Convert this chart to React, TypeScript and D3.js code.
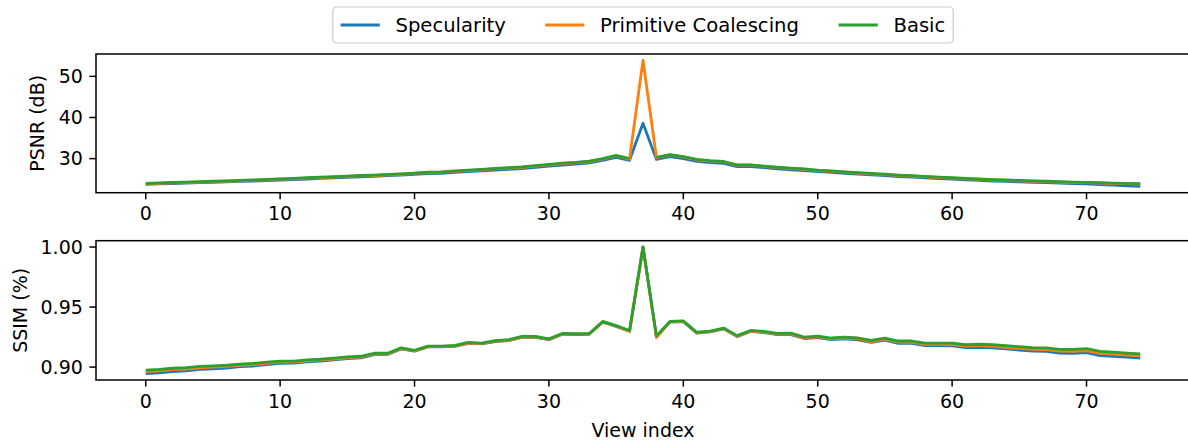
import * as d3 from "d3";

// view indices 0..74
const viewIndex = d3.range(75);

const seriesNames = ["Specularity", "Primitive Coalescing", "Basic"];
const seriesColors = ["#1f77b4", "#ff7f0e", "#2ca02c"];

// PSNR (dB) per view; Basic is infinite at view 37 (not drawn)
const psnrSpecularity = [
  23.75, 23.85, 23.95, 24.05, 24.15, 24.25, 24.35, 24.45, 24.55, 24.65,
  24.8, 24.9, 25.05, 25.2, 25.3, 25.45, 25.6, 25.7, 25.85, 26.0,
  26.15, 26.35, 26.45, 26.65, 26.85, 27.0, 27.2, 27.4, 27.6, 27.9,
  28.2, 28.45, 28.65, 28.95, 29.6, 30.3, 29.6, 38.6, 29.8, 30.5,
  30.0, 29.35, 29.05, 28.85, 28.05, 28.05, 27.8, 27.5, 27.3, 27.1,
  26.85, 26.65, 26.45, 26.25, 26.05, 25.85, 25.65, 25.5, 25.35, 25.15,
  25.0, 24.85, 24.7, 24.55, 24.45, 24.35, 24.25, 24.15, 24.05, 23.95,
  23.85, 23.7, 23.55, 23.4, 23.25,
];
const psnrCoalescing = [
  23.9, 24.0, 24.1, 24.2, 24.3, 24.4, 24.5, 24.6, 24.7, 24.85,
  25.0, 25.1, 25.25, 25.4, 25.5, 25.65, 25.8, 25.9, 26.05, 26.2,
  26.4, 26.6, 26.7, 26.9, 27.1, 27.3, 27.5, 27.7, 27.9, 28.2,
  28.5, 28.8, 29.0, 29.3, 29.9, 30.7, 29.9, 53.9, 30.2, 30.9,
  30.4, 29.7, 29.4, 29.2, 28.4, 28.4, 28.1, 27.8, 27.6, 27.4,
  27.1, 26.9, 26.7, 26.5, 26.3, 26.1, 25.9, 25.75, 25.6, 25.4,
  25.25, 25.1, 24.95, 24.8, 24.7, 24.6, 24.5, 24.4, 24.3, 24.2,
  24.15, 24.05, 23.95, 23.9, 23.8,
];
const psnrBasic = [
  24.0, 24.1, 24.2, 24.3, 24.4, 24.5, 24.6, 24.7, 24.8, 24.95,
  25.1, 25.2, 25.35, 25.5, 25.6, 25.75, 25.9, 26.0, 26.15, 26.3,
  26.5, 26.7, 26.8, 27.0, 27.2, 27.4, 27.6, 27.8, 28.0, 28.3,
  28.6, 28.9, 29.1, 29.4, 30.0, 30.8, 30.0, null, 30.3, 31.0,
  30.5, 29.8, 29.5, 29.3, 28.5, 28.5, 28.2, 27.9, 27.7, 27.5,
  27.2, 27.0, 26.8, 26.6, 26.4, 26.2, 26.0, 25.85, 25.7, 25.5,
  25.35, 25.2, 25.05, 24.9, 24.8, 24.7, 24.6, 24.5, 24.4, 24.3,
  24.25, 24.15, 24.05, 24.0, 23.9,
];

// SSIM per view
const ssimSpecularity = [
  0.8945, 0.8952, 0.8963, 0.8969, 0.898, 0.8986, 0.8992, 0.9003, 0.9009, 0.902,
  0.9031, 0.9032, 0.9043, 0.9049, 0.906, 0.9071, 0.9077, 0.9104, 0.9105, 0.9151,
  0.9132, 0.9168, 0.9168, 0.9173, 0.9198, 0.9193, 0.9213, 0.9221, 0.9248, 0.9248,
  0.9228, 0.9273, 0.9271, 0.9273, 0.9374, 0.9339, 0.9299, 1.0, 0.9253, 0.9374,
  0.9379, 0.9283, 0.9293, 0.9318, 0.9254, 0.9297, 0.9288, 0.927, 0.9271, 0.9238,
  0.9245, 0.9228, 0.9235, 0.9226, 0.9205, 0.9224, 0.9198, 0.9197, 0.9179, 0.9178,
  0.9177, 0.9162, 0.9165, 0.916, 0.9151, 0.9142, 0.9132, 0.913, 0.9116, 0.9115,
  0.912, 0.9096, 0.909, 0.9082, 0.9075,
];
const ssimCoalescing = [
  0.8962, 0.8968, 0.8978, 0.8984, 0.8994, 0.9, 0.9005, 0.9015, 0.9021, 0.9031,
  0.9041, 0.9042, 0.9052, 0.9057, 0.9067, 0.9077, 0.9083, 0.9109, 0.911, 0.9155,
  0.9135, 0.917, 0.917, 0.9176, 0.92, 0.9195, 0.9216, 0.9223, 0.925, 0.9251,
  0.923, 0.9276, 0.9274, 0.9276, 0.9377, 0.9342, 0.9296, 1.0, 0.9245, 0.9376,
  0.9381, 0.9286, 0.9295, 0.9321, 0.9256, 0.9299, 0.9291, 0.9274, 0.9276, 0.9243,
  0.9251, 0.9235, 0.9242, 0.9234, 0.9213, 0.9233, 0.9207, 0.9206, 0.9189, 0.9189,
  0.9188, 0.9174, 0.9178, 0.9173, 0.9164, 0.9156, 0.9147, 0.9145, 0.9132, 0.9131,
  0.9137, 0.9114, 0.9108, 0.91, 0.9093,
];
const ssimBasic = [
  0.8975, 0.898, 0.899, 0.8995, 0.9005, 0.901, 0.9015, 0.9025, 0.903, 0.904,
  0.905, 0.905, 0.906, 0.9065, 0.9075, 0.9085, 0.909, 0.9115, 0.9115, 0.916,
  0.914, 0.9175, 0.9175, 0.918, 0.9205, 0.92, 0.922, 0.9228, 0.9255, 0.9255,
  0.9235, 0.928, 0.9278, 0.928, 0.938, 0.9345, 0.9305, 1.0, 0.926, 0.938,
  0.9385, 0.929, 0.93, 0.9325, 0.9262, 0.9305, 0.9297, 0.928, 0.9282, 0.925,
  0.9258, 0.9242, 0.925, 0.9242, 0.9222, 0.9242, 0.9217, 0.9217, 0.92, 0.92,
  0.92, 0.9186, 0.919, 0.9186, 0.9178, 0.917, 0.9161, 0.916, 0.9147, 0.9147,
  0.9153, 0.913, 0.9125, 0.9117, 0.911,
];

const xTicks = [0, 10, 20, 30, 40, 50, 60, 70];
const psnrTicks = [30, 40, 50];
const ssimTicks = [0.9, 0.95, 1.0];

// legend text widths in em (DejaVu Sans)
const legendTextEm = [5.633, 10.173, 2.648];

const W = 1188;
const H = 445;
const FS = 19;
const LEGEND_FS = 19.6;
const TICK = 6.6;
const FONT = "DejaVu Sans";

const plotLeft = 96;
const plotRight = 1190;

const x = d3.scaleLinear().domain([-3.7, 77.7]).range([plotLeft, plotRight]);

function padded(all: (number | null)[][]) {
  const vals = all.flat().filter((v): v is number => v != null && isFinite(v));
  const [lo, hi] = d3.extent(vals) as [number, number];
  const m = (hi - lo) * 0.05;
  return [lo - m, hi + m];
}

type PanelProps = {
  top: number;
  bottom: number;
  series: (number | null)[][];
  yTicks: number[];
  yFormat: (v: number) => string;
  yLabel: string;
  yLabelX: number;
  xLabel?: string;
};

const Panel = ({ top, bottom, series, yTicks, yFormat, yLabel, yLabelX, xLabel }: PanelProps) => {
  const y = d3.scaleLinear().domain(padded(series)).range([bottom, top]);
  const line = d3
    .line<number | null>()
    .defined((d) => d != null)
    .x((_, i) => x(viewIndex[i]))
    .y((d) => y(d as number));

  return (
    <g>
      {series.map((s, i) => (
        <path
          key={i}
          d={line(s) || ""}
          fill="none"
          stroke={seriesColors[i]}
          strokeWidth={2.8}
          strokeLinejoin="round"
        />
      ))}
      <rect
        x={plotLeft}
        y={top}
        width={plotRight - plotLeft}
        height={bottom - top}
        fill="none"
        stroke="#000"
        strokeWidth={1.5}
      />
      {xTicks.map((t) => (
        <g key={t} transform={`translate(${x(t)},${bottom})`}>
          <line y2={TICK} stroke="#000" strokeWidth={1.5} />
          <text y={TICK * 2} dy="0.76em" textAnchor="middle">
            {t}
          </text>
        </g>
      ))}
      {yTicks.map((t) => (
        <g key={t} transform={`translate(${plotLeft},${y(t)})`}>
          <line x2={-TICK} stroke="#000" strokeWidth={1.5} />
          <text x={-TICK * 2} dy="0.36em" textAnchor="end">
            {yFormat(t)}
          </text>
        </g>
      ))}
      <text
        transform={`translate(${yLabelX},${(top + bottom) / 2}) rotate(-90)`}
        textAnchor="middle"
      >
        {yLabel}
      </text>
      {xLabel && (
        <text x={(plotLeft + plotRight) / 2} y={437} textAnchor="middle">
          {xLabel}
        </text>
      )}
    </g>
  );
};

const Legend = () => {
  const f = LEGEND_FS;
  const widths = legendTextEm.map((e) => e * f);
  const total = f * 0.8 + d3.sum(widths) + seriesNames.length * 2.8 * f + (seriesNames.length - 1) * 2 * f;
  const left = (plotLeft + plotRight) / 2 - total / 2;
  const cy = 25;
  let cursor = left + f * 0.4;
  const items = seriesNames.map((name, i) => {
    const x0 = cursor;
    cursor += 2.8 * f + widths[i] + 2 * f;
    return { name, x0, color: seriesColors[i] };
  });
  return (
    <g style={{ fontSize: f }}>
      <rect
        x={left}
        y={7}
        width={total}
        height={36}
        rx={4}
        fill="#fff"
        fillOpacity={0.8}
        stroke="#cccccc"
        strokeWidth={1.2}
      />
      {items.map((it) => (
        <g key={it.name}>
          <line x1={it.x0} x2={it.x0 + 2 * f} y1={cy} y2={cy} stroke={it.color} strokeWidth={2.8} />
          <text x={it.x0 + 2.8 * f} y={cy} dy="0.36em">
            {it.name}
          </text>
        </g>
      ))}
    </g>
  );
};

export default function App() {
  return (
    <div style={{ position: "fixed", left: 0, top: 0, width: W, height: H, background: "#fff" }}>
      <svg width={W} height={H} style={{ display: "block", fontFamily: FONT, fontSize: FS, fill: "#000" }}>
        <rect width={W} height={H} fill="#fff" />
        <Panel
          top={54}
          bottom={192.7}
          series={[psnrSpecularity, psnrCoalescing, psnrBasic]}
          yTicks={psnrTicks}
          yFormat={(v) => d3.format("d")(v)}
          yLabel="PSNR (dB)"
          yLabelX={44}
        />
        <Panel
          top={240.7}
          bottom={380}
          series={[ssimSpecularity, ssimCoalescing, ssimBasic]}
          yTicks={ssimTicks}
          yFormat={(v) => d3.format(".2f")(v)}
          yLabel="SSIM (%)"
          yLabelX={27}
          xLabel="View index"
        />
        <Legend />
      </svg>
    </div>
  );
}
